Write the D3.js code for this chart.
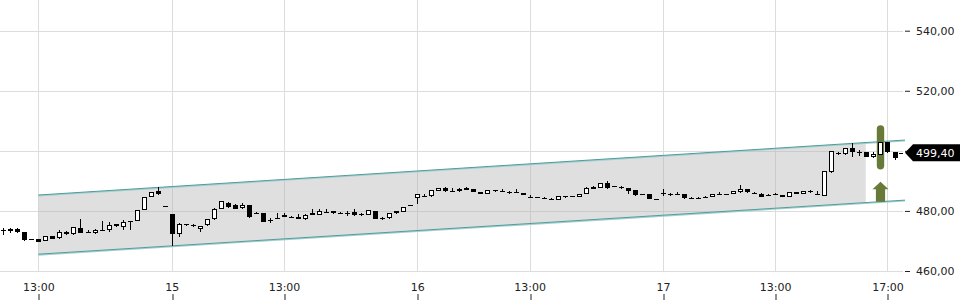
<!DOCTYPE html>
<html>
<head>
<meta charset="utf-8">
<script src="https://cdn.jsdelivr.net/npm/d3@7"></script>
<style>
body { margin: 0; background: #fff; }
svg { display: block; font-family: "DejaVu Sans", sans-serif; }
</style>
</head>
<body>
<script>
// 15 minute candles, one value per candle (index 0 = 11:45 on the 14th)
var opens = [473.6,473.3,474.1,472.9,470.6,470.6,470.05,471.6,471.1,473.0,472.2,474.4,473.0,472.5,473.7,473.6,475.6,474.7,476.7,476.7,
  480.3,484.7,486.6,481.7,478.9,472.3,475.7,475.3,474.0,475.3,477.2,480.8,482.8,482.0,481.0,481.9,479.4,479.2,476.9,477.7,
  478.5,478.0,478.0,477.2,479.2,478.8,479.7,479.9,479.4,479.4,479.6,479.0,478.8,479.9,477.5,477.5,479.2,479.7,481.9,484.2,
  484.9,484.9,486.7,487.7,486.7,486.5,487.5,487.2,486.3,485.6,486.8,486.6,486.3,486.4,486.0,484.8,484.6,484.4,484.1,483.8,
  484.9,484.9,484.7,485.8,488.0,487.6,489.3,488.25,487.9,487.5,486.9,485.6,485.5,484.0,485.9,485.5,485.5,485.5,484.4,484.3,
  484.6,484.7,485.5,485.6,485.6,486.2,487.2,486.0,485.8,485.3,485.5,485.3,484.7,486.2,485.8,486.5,485.6,485.0,492.8,499.2,
  498.8,501.1,499.5,499.5,497.8,498.6,503.0,499.5];
var highs = [474.3,474.3,474.3,473.1,470.7,470.7,471.8,471.8,473.6,473.2,474.6,477.2,473.8,474.1,476.7,476.4,475.8,476.9,476.8,480.3,
  484.7,486.4,487.8,481.7,479.0,475.9,475.8,475.6,474.9,477.3,480.9,483.3,483.0,482.2,482.5,482.0,479.6,479.3,477.7,479.2,
  479.2,478.2,478.9,478.9,480.5,480.5,480.5,480.1,479.6,480.0,480.5,479.2,480.2,480.0,477.9,479.2,480.1,481.2,482.0,485.6,
  485.6,487.0,487.7,487.8,487.6,487.5,487.9,487.3,486.4,487.0,486.9,487.4,486.7,487.3,486.1,485.2,484.7,484.8,484.2,485.0,
  485.0,485.1,485.6,487.8,488.2,489.3,490.1,488.4,488.3,487.6,487.0,485.7,485.6,484.1,487.2,486.0,486.4,485.6,484.5,484.6,
  485.1,485.6,486.4,485.8,486.7,488.6,487.3,486.2,485.9,485.7,485.9,485.4,486.2,486.3,486.6,486.9,486.6,493.3,500.0,499.7,
  500.9,502.5,500.3,499.6,499.7,503.0,503.1,499.6];
var lows = [472.0,472.6,472.8,469.9,470.5,469.7,470.0,470.6,470.6,472.1,472.1,472.5,472.5,472.3,473.2,473.0,474.8,473.8,473.8,476.6,
  480.2,484.6,485.4,481.7,468.4,471.3,475.0,474.6,473.0,475.0,477.0,480.7,481.0,480.6,480.8,477.8,478.9,476.4,476.1,477.3,
  477.9,477.8,477.3,477.1,478.6,478.6,479.2,479.1,479.2,478.2,478.4,478.4,478.7,477.2,477.1,477.4,479.0,479.6,481.8,482.2,
  484.6,484.8,486.6,486.4,486.4,486.4,486.9,486.2,485.6,485.5,486.4,486.5,485.8,486.2,485.2,484.4,484.4,484.2,483.9,483.7,
  484.4,484.7,484.6,485.7,487.3,487.5,487.2,487.8,487.2,485.5,485.1,485.3,483.9,483.9,484.9,484.9,485.3,484.1,484.2,483.9,
  484.3,484.6,485.4,485.4,485.5,486.1,486.1,485.9,484.6,485.0,485.3,484.6,484.6,485.5,485.7,486.1,485.5,484.9,492.7,498.7,
  498.6,498.0,498.4,497.8,497.5,498.5,499.4,496.9];
var closes = [473.7,474.0,472.9,470.3,470.6,469.7,471.7,470.7,473.0,472.2,474.5,472.7,473.1,473.8,473.3,475.3,474.9,476.2,476.6,480.3,
  484.7,486.4,485.5,481.7,472.3,475.8,475.7,474.9,474.9,477.2,480.8,483.3,481.2,480.7,482.1,478.0,478.9,476.4,477.0,477.4,
  478.0,478.0,477.4,478.8,478.7,480.0,479.7,479.2,479.4,479.3,478.5,478.5,480.2,477.3,477.5,479.2,480.0,481.2,481.9,485.6,
  485.1,486.8,487.7,486.5,486.5,487.4,487.1,486.3,485.7,486.9,486.5,486.6,486.2,486.3,485.3,484.7,484.45,484.4,484.0,484.9,
  484.5,484.9,485.5,487.7,487.4,489.2,487.7,487.9,487.5,486.6,485.2,485.4,484.0,484.0,485.7,485.5,485.5,484.2,484.3,484.2,
  484.7,485.5,485.5,485.6,486.6,487.3,486.2,486.0,484.7,485.3,485.6,484.7,486.2,485.6,486.6,486.3,485.6,493.2,499.9,499.1,
  500.8,499.5,499.4,497.8,498.8,503.0,499.5,497.5];

// time axis: candle index of each labelled tick
var tickIndex = [5, 24, 40, 59, 75, 94, 110, 126];
var tickLabels = ["13:00", "15", "13:00", "16", "13:00", "17", "13:00", "17:00"];
var yTicks = [460, 480, 500, 520, 540];

// trend channel
var channelIdx = [5, 128.5];
var channelUpper = [485.3, 503.6];
var channelLower = [465.6, 483.6];
var fillEndIdx = 122.9;

// signal marker
var signalIdx = 125;
var signalBar = [508.5, 493.8];
var lastPrice = 499.40;

var width = 960,
    height = 300,
    plotRight = 903,
    plotBottom = 271;

var x = d3.scaleLinear().domain([0, 127]).range([3.3, 894.5]);
var y = d3.scaleLinear().domain([460, 540]).range([plotBottom, 30.7]);

var fmt = function(d) { return d3.format(".2f")(d).replace(".", ","); };

var svg = d3.select("body").append("svg")
    .attr("width", width)
    .attr("height", height);

// grid
svg.append("g").selectAll("line")
    .data(yTicks)
  .enter().append("line")
    .attr("x1", 0).attr("x2", plotRight)
    .attr("y1", function(d) { return Math.round(y(d)) + 0.5; })
    .attr("y2", function(d) { return Math.round(y(d)) + 0.5; })
    .attr("stroke", "#dcdcdc");

svg.append("g").selectAll("line")
    .data(tickIndex)
  .enter().append("line")
    .attr("x1", function(d) { return Math.round(x(d)) + 0.5; })
    .attr("x2", function(d) { return Math.round(x(d)) + 0.5; })
    .attr("y1", 0).attr("y2", plotBottom)
    .attr("stroke", "#dcdcdc");

// channel
var channel = channelIdx.map(function(d, i) {
  return {i: d, up: channelUpper[i], lo: channelLower[i]};
});

svg.append("clipPath").attr("id", "fillclip")
  .append("rect")
    .attr("x", x(channelIdx[0])).attr("y", 0)
    .attr("width", x(fillEndIdx) - x(channelIdx[0]))
    .attr("height", plotBottom);

svg.append("path")
    .datum(channel)
    .attr("clip-path", "url(#fillclip)")
    .attr("fill", "#b4b4b4")
    .attr("fill-opacity", 0.43)
    .attr("d", d3.area()
      .x(function(d) { return x(d.i); })
      .y0(function(d) { return y(d.lo); })
      .y1(function(d) { return y(d.up); }));

["up", "lo"].forEach(function(k) {
  svg.append("path")
      .datum(channel)
      .attr("fill", "none")
      .attr("stroke", "#a8cfcf")
      .attr("stroke-width", 1.4)
      .attr("d", d3.line().x(function(d) { return x(d.i); }).y(function(d) { return y(d[k]) + 0.8; }));
  svg.append("path")
      .datum(channel)
      .attr("fill", "none")
      .attr("stroke", "#529c9c")
      .attr("stroke-width", 1)
      .attr("d", d3.line().x(function(d) { return x(d.i); }).y(function(d) { return y(d[k]); }));
});

// signal highlight + arrow
var sx = Math.round(x(signalIdx)) + 0.5;
svg.append("rect")
    .attr("x", sx - 3.7).attr("width", 7.4)
    .attr("y", y(signalBar[0])).attr("height", y(signalBar[1]) - y(signalBar[0]))
    .attr("rx", 3.7)
    .attr("fill", "#687a39");

var lowAtSignal = channelLower[0] + (channelLower[1] - channelLower[0]) *
    (signalIdx - channelIdx[0]) / (channelIdx[1] - channelIdx[0]);
var ab = y(lowAtSignal), at = ab - 20;
svg.append("path")
    .attr("fill", "#687a39")
    .attr("d", "M" + sx + "," + at +
      "L" + (sx + 8) + "," + (at + 7.5) +
      "L" + (sx + 4.6) + "," + (at + 7.5) +
      "L" + (sx + 4.6) + "," + ab +
      "L" + (sx - 4.6) + "," + ab +
      "L" + (sx - 4.6) + "," + (at + 7.5) +
      "L" + (sx - 8) + "," + (at + 7.5) + "Z");

// candles
var candles = opens.map(function(o, i) {
  return {i: i, o: o, h: highs[i], l: lows[i], c: closes[i]};
});

var g = svg.append("g").selectAll("g")
    .data(candles)
  .enter().append("g");

g.append("line")
    .attr("x1", function(d) { return Math.round(x(d.i)) + 0.5; })
    .attr("x2", function(d) { return Math.round(x(d.i)) + 0.5; })
    .attr("y1", function(d) { return Math.round(y(d.h)); })
    .attr("y2", function(d) { return Math.round(y(d.l)); })
    .attr("stroke", "#000");

g.each(function(d) {
  var cx = Math.round(x(d.i)),
      top = Math.round(y(Math.max(d.o, d.c))),
      bot = Math.round(y(Math.min(d.o, d.c))),
      el = d3.select(this);
  if (d.c > d.o && bot - top >= 3) {
    el.append("rect")
        .attr("x", cx - 1.5).attr("width", 4)
        .attr("y", top + 0.5).attr("height", bot - top - 1)
        .attr("fill", "#fff").attr("stroke", "#000");
  } else {
    el.append("rect")
        .attr("x", cx - 2).attr("width", 5)
        .attr("y", top).attr("height", Math.max(1, bot - top))
        .attr("fill", "#000");
  }
});

// last price
var py = y(lastPrice);
svg.append("line")
    .attr("x1", Math.round(x(127)) + 4).attr("x2", 905)
    .attr("y1", Math.round(py) + 0.5).attr("y2", Math.round(py) + 0.5)
    .attr("stroke", "#000").attr("stroke-dasharray", "4,3");

// y axis
var yAxis = svg.append("g")
    .attr("transform", "translate(905,0)")
    .call(d3.axisRight(y).tickValues(yTicks).tickSize(5).tickPadding(6).tickFormat(fmt));
yAxis.select(".domain").remove();
yAxis.selectAll("line").attr("stroke", "#222");
yAxis.selectAll("text")
    .attr("font-size", 11).attr("fill", "#222")
    .attr("font-family", "DejaVu Sans")
    .style("display", function(d) { return Math.abs(d - lastPrice) < 4 ? "none" : null; });

svg.append("path")
    .attr("fill", "#000")
    .attr("d", "M905," + py + "L913," + (py - 8.5) + "L960," + (py - 8.5) +
      "L960," + (py + 8.5) + "L913," + (py + 8.5) + "Z");
svg.append("text")
    .attr("x", 916).attr("y", py + 4)
    .attr("font-size", 11).attr("fill", "#fff")
    .text(fmt(lastPrice));

// x axis
var xAxis = svg.append("g")
    .attr("transform", "translate(0,300)")
    .call(d3.axisTop(x).tickValues(tickIndex).tickSize(6).tickPadding(3)
      .tickFormat(function(d, i) { return tickLabels[i]; }));
xAxis.select(".domain").remove();
xAxis.selectAll("line").attr("stroke", "#222")
    .attr("transform", function(d) { return "translate(" + (Math.round(x(d)) + 0.5 - x(d)) + ",0)"; });
xAxis.selectAll("text").attr("font-size", 11).attr("fill", "#222").attr("font-family", "DejaVu Sans");
</script>
</body>
</html>
